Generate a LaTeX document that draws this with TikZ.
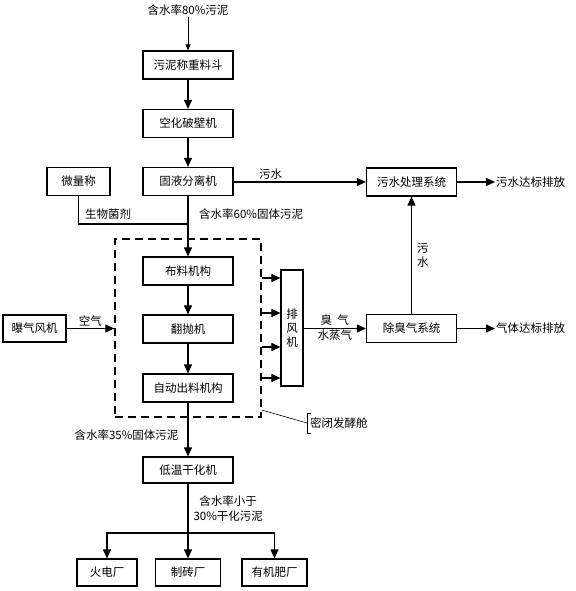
\documentclass[tikz,border=0pt]{standalone}
\usepackage{fontspec}
\newfontfamily\cjk{Noto Sans CJK SC}
\usetikzlibrary{arrows.meta,positioning,calc}
\tikzset{
  >={Triangle[length=9pt,width=8pt]},
  box/.style={draw, line width=1.2pt, minimum width=90pt, minimum height=28pt,
              inner sep=2pt, align=center, font=\cjk\fontsize{11.5}{14}\selectfont},
  lbl/.style={inner sep=1pt, align=center, font=\cjk\fontsize{11.5}{15}\selectfont},
  flow/.style={->, line width=1.1pt},
  link/.style={line width=1.1pt},
  shell/.style={draw, line width=1.3pt, dash pattern=on 8pt off 5pt,
              minimum width=146pt, minimum height=178pt},
}

\begin{document}
\begin{tikzpicture}[x=1pt,y=-1pt]
  \useasboundingbox (0,0) rectangle (575,591);
  % main column
  \node[lbl] (src) at (188,10) {含水率80\%污泥};
  \node[box] (hopper) at (188,65) {污泥称重料斗};
  \node[box] (crush) at (188,123.5) {空化破壁机};
  \node[box] (sep) at (188,181.5) {固液分离机};
  \node[box,minimum width=63pt] (scale) at (78.5,181.5) {微量称};
  \node[box] (wtreat) at (411.5,182) {污水处理系统};
  \node[lbl,anchor=west] (wout) at (495,182) {污水达标排放};
  % sealed fermentation tank
  \node[shell] (tank) at (188,328) {};
  \node[box] (spread) at (188,271) {布料机构};
  \node[box] (turn) at (188,329) {翻抛机};
  \node[box] (auto) at (188,388) {自动出料机构};
  \node[box,minimum width=63pt,minimum height=27pt] (aer) at (34.5,328.5) {曝气风机};
  \node[box,minimum width=22pt,minimum height=116pt,inner sep=1pt] (fan) at (292,328) {排\\风\\机};
  \node[box] (deodor) at (411.5,328.5) {除臭气系统};
  \node[lbl,anchor=west] (gout) at (495,328.5) {气体达标排放};
  \node[lbl,anchor=west,minimum height=20pt,inner sep=3pt] (sealed) at (307,423) {密闭发酵舱};
  % drying and outlets
  \node[box,minimum height=26pt] (dry) at (188,470) {低温干化机};
  \node[box,minimum width=60pt,minimum height=27pt] (power) at (107,572.5) {火电厂};
  \node[box,minimum width=65pt,minimum height=27pt] (brick) at (188,572.5) {制砖厂};
  \node[box,minimum width=65pt,minimum height=27pt] (fert) at (274.5,572.5) {有机肥厂};
  \coordinate (join) at (188,224);
  \coordinate (fork) at (188,533);

  \draw[->,line width=0.7pt,>={Triangle[length=6pt,width=5pt]}] (src.south) -- (hopper.north);
  \draw[flow] (hopper) -- (crush);
  \draw[flow] (crush) -- (sep);
  \draw[flow] (sep) -- (spread);
  \draw[link] (scale.south) |- (join);
  \node[lbl,anchor=west] at (84,214) {生物菌剂};
  \node[lbl,anchor=west] at (198,214) {含水率60\%固体污泥};
  \draw[flow] (sep.east |- wtreat.west) -- (wtreat.west)
    node[lbl,pos=0.28,above=1pt] {污水};
  \draw[flow] (wtreat.east) -- (wout.west);
  \draw[flow] (spread) -- (turn);
  \draw[flow] (turn) -- (auto);
  \draw[flow] (aer.east) -- (aer.east -| tank.west)
    node[lbl,midway,above=1pt] {空气};
  \foreach \y in {278,313,347,378}{
    \draw[flow] (tank.east |- 0,\y) -- (fan.west |- 0,\y);}
  \draw[flow] (fan.east |- deodor.west) -- (deodor.west)
    node[lbl,midway,above=1pt] {臭\ \ 气}
    node[lbl,midway,below=0pt] {水蒸气};
  \draw[flow] (deodor.north) -- (wtreat.south)
    node[lbl,midway,right=4pt,font=\cjk\fontsize{11.5}{14}\selectfont] {污\\水};
  \draw[flow] (deodor.east) -- (gout.west);
  % callout
  \draw[line width=0.6pt] (tank.east |- 0,410) -- (sealed.west);
  \draw[line width=0.6pt] ($(sealed.north west)+(4,0)$) -- (sealed.north west)
    -- (sealed.south west) -- ++(4,0);
  \draw[flow] (auto) -- (dry)
    node[lbl,pos=0.6,left=8pt] {含水率35\%固体污泥};
  \draw[link] (dry) -- (fork)
    node[lbl,midway,right=4pt] {含水率小于\\30\%干化污泥};
  \draw[flow] (fork) -- (brick);
  \draw[flow] (fork) -| (power.north);
  \draw[flow] (fork) -| (fert.north);
\end{tikzpicture}
\end{document}
